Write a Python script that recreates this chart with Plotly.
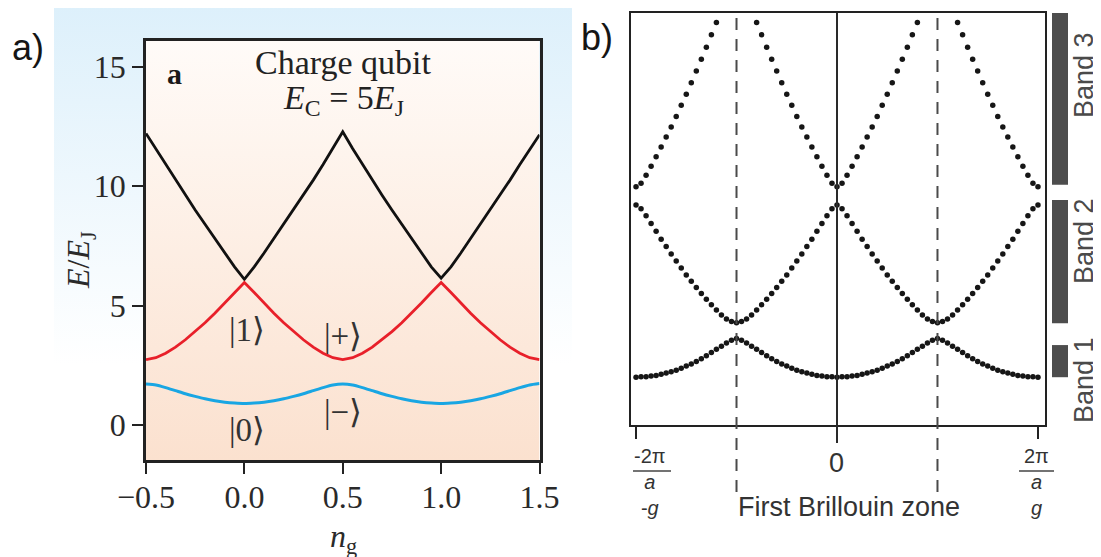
import plotly.graph_objects as go

W, H = 1101, 557
OFF = 8  # page offset of the plot div inside the browser window

# ---------------- Panel a data (charge qubit levels) ----------------
ng = [-0.5, -0.45, -0.4, -0.35, -0.3, -0.25, -0.2, -0.15, -0.1, -0.05,
      0.0, 0.05, 0.1, 0.15, 0.2, 0.25, 0.3, 0.35, 0.4, 0.45,
      0.5, 0.55, 0.6, 0.65, 0.7, 0.75, 0.8, 0.85, 0.9, 0.95,
      1.0, 1.05, 1.1, 1.15, 1.2, 1.25, 1.3, 1.35, 1.4, 1.45, 1.5]
level_ground = [1.72, 1.68, 1.57, 1.44, 1.31, 1.20, 1.10, 1.02, 0.96, 0.92,
                0.90, 0.92, 0.96, 1.02, 1.10, 1.20, 1.31, 1.44, 1.57, 1.68,
                1.72, 1.68, 1.57, 1.44, 1.31, 1.20, 1.10, 1.02, 0.96, 0.92,
                0.90, 0.92, 0.96, 1.02, 1.10, 1.20, 1.31, 1.44, 1.57, 1.68, 1.74]
level_first = [2.74, 2.82, 3.01, 3.26, 3.57, 3.91, 4.28, 4.68, 5.11, 5.55,
               5.97, 5.55, 5.11, 4.68, 4.28, 3.91, 3.57, 3.26, 3.01, 2.82,
               2.74, 2.82, 3.01, 3.26, 3.57, 3.91, 4.28, 4.68, 5.11, 5.55,
               5.97, 5.55, 5.11, 4.68, 4.28, 3.91, 3.57, 3.26, 3.01, 2.82, 2.74]
level_second = [12.2, 11.55, 10.90, 10.25, 9.62, 9.00, 8.40, 7.80, 7.20, 6.62,
                6.10, 6.62, 7.20, 7.80, 8.40, 9.00, 9.62, 10.25, 10.90, 11.57,
                12.27, 11.57, 10.90, 10.25, 9.62, 9.00, 8.40, 7.80, 7.20, 6.62,
                6.15, 6.62, 7.20, 7.80, 8.40, 9.00, 9.62, 10.25, 10.90, 11.52, 12.15]
a_xticks = [-0.5, 0.0, 0.5, 1.0, 1.5]
a_xticklabels = ["\u22120.5", "0.0", "0.5", "1.0", "1.5"]
a_yticks = [0, 5, 10, 15]
a_yticklabels = ["0", "5", "10", "15"]

# ---------------- Panel b data (band structure) ----------------
k = [-1.0, -0.975, -0.95, -0.925, -0.9, -0.875, -0.85, -0.825, -0.8, -0.775,
     -0.75, -0.725, -0.7, -0.675, -0.65, -0.625, -0.6, -0.575, -0.55, -0.525,
     -0.5, -0.475, -0.45, -0.425, -0.4, -0.375, -0.35, -0.325, -0.3, -0.275,
     -0.25, -0.225, -0.2, -0.175, -0.15, -0.125, -0.1, -0.075, -0.05, -0.025,
     0.0, 0.025, 0.05, 0.075, 0.1, 0.125, 0.15, 0.175, 0.2, 0.225,
     0.25, 0.275, 0.3, 0.325, 0.35, 0.375, 0.4, 0.425, 0.45, 0.475,
     0.5, 0.525, 0.55, 0.575, 0.6, 0.625, 0.65, 0.675, 0.7, 0.725,
     0.75, 0.775, 0.8, 0.825, 0.85, 0.875, 0.9, 0.925, 0.95, 0.975, 1.0]
band1 = [1.16, 1.17, 1.17, 1.19, 1.20, 1.23, 1.26, 1.29, 1.33, 1.38, 1.43, 1.48, 1.54, 1.61, 1.68, 1.76, 1.84, 1.91, 1.99, 2.06, 2.10,
         2.06, 1.99, 1.91, 1.84, 1.76, 1.68, 1.61, 1.54, 1.48, 1.43, 1.38, 1.33, 1.29, 1.26, 1.23, 1.20, 1.19, 1.17, 1.17, 1.16,
         1.17, 1.17, 1.19, 1.20, 1.23, 1.26, 1.29, 1.33, 1.38, 1.43, 1.48, 1.54, 1.61, 1.68, 1.76, 1.84, 1.91, 1.99, 2.06, 2.10,
         2.06, 1.99, 1.91, 1.84, 1.76, 1.68, 1.61, 1.54, 1.48, 1.43, 1.38, 1.33, 1.29, 1.26, 1.23, 1.20, 1.19, 1.17, 1.17, 1.16]
band2 = [5.34, 5.25, 5.08, 4.89, 4.70, 4.51, 4.33, 4.15, 3.98, 3.81, 3.64, 3.49, 3.34, 3.19, 3.05, 2.92, 2.79, 2.67, 2.57, 2.51, 2.48,
         2.51, 2.57, 2.67, 2.79, 2.92, 3.05, 3.19, 3.34, 3.49, 3.64, 3.81, 3.98, 4.15, 4.33, 4.51, 4.70, 4.89, 5.08, 5.25, 5.34,
         5.25, 5.08, 4.89, 4.70, 4.51, 4.33, 4.15, 3.98, 3.81, 3.64, 3.49, 3.34, 3.19, 3.05, 2.92, 2.79, 2.67, 2.57, 2.51, 2.48,
         2.51, 2.57, 2.67, 2.79, 2.92, 3.05, 3.19, 3.34, 3.49, 3.64, 3.81, 3.98, 4.15, 4.33, 4.51, 4.70, 4.89, 5.08, 5.25, 5.34]
band3 = [5.78, 5.87, 6.06, 6.28, 6.51, 6.75, 6.99, 7.23, 7.49, 7.76, 8.03, 8.31, 8.59, 8.88, 9.17, 9.47, 9.77, 10.08, 10.40, 10.72, 11.05,
         10.72, 10.40, 10.08, 9.77, 9.47, 9.17, 8.88, 8.59, 8.31, 8.03, 7.76, 7.49, 7.23, 6.99, 6.75, 6.51, 6.28, 6.06, 5.87, 5.78,
         5.87, 6.06, 6.28, 6.51, 6.75, 6.99, 7.23, 7.49, 7.76, 8.03, 8.31, 8.59, 8.88, 9.17, 9.47, 9.77, 10.08, 10.40, 10.72, 11.05,
         10.72, 10.40, 10.08, 9.77, 9.47, 9.17, 8.88, 8.59, 8.31, 8.03, 7.76, 7.49, 7.23, 6.99, 6.75, 6.51, 6.28, 6.06, 5.87, 5.78]
zone_edges = [-0.5, 0.5]
band_names = ["Band 1", "Band 2", "Band 3"]
band_lo = [1.16, 2.47, 5.83]
band_hi = [1.94, 5.46, 10.0]


def px(x):
    return (x - OFF) / W


def py(y):
    return 1 - (y - OFF) / H


SERIF = "Liberation Serif, Times New Roman, serif"
SANS = "Liberation Sans, Arial, sans-serif"

fig = go.Figure()

# background light-blue wash behind panel a (pixel-based helper axes)
fig.add_trace(go.Scatter(
    x=[54, 572, 572, 54, 54], y=[H - 7, H - 7, H - 365, H - 365, H - 7],
    mode="lines", fill="toself", line=dict(width=0),
    fillgradient=dict(type="vertical", colorscale=[[0, "#ffffff"], [1, "#ddf0fb"]],
                      start=H - 365, stop=H - 7),
    hoverinfo="skip", xaxis="x", yaxis="y"))

# panel a plot-area gradient
fig.add_trace(go.Scatter(
    x=[-0.5, 1.5, 1.5, -0.5, -0.5], y=[-1.46, -1.46, 16.07, 16.07, -1.46],
    mode="lines", fill="toself", line=dict(width=0),
    fillgradient=dict(type="vertical", colorscale=[[0, "#fbe1cf"], [1, "#fffbf8"]],
                      start=-1.46, stop=16.07),
    hoverinfo="skip", xaxis="x2", yaxis="y2"))

fig.add_trace(go.Scatter(x=ng, y=level_second, mode="lines",
                         line=dict(color="#111111", width=2.8), xaxis="x2", yaxis="y2"))
fig.add_trace(go.Scatter(x=ng, y=level_first, mode="lines",
                         line=dict(color="#e8202a", width=2.8), xaxis="x2", yaxis="y2"))
fig.add_trace(go.Scatter(x=ng, y=level_ground, mode="lines",
                         line=dict(color="#19a6e3", width=3, shape="spline", smoothing=0.6),
                         xaxis="x2", yaxis="y2"))

# panel b dotted bands
for b in (band1, band2, band3):
    fig.add_trace(go.Scatter(x=k, y=b, mode="markers",
                             marker=dict(color="#161616", size=5.5),
                             xaxis="x3", yaxis="y3"))

shapes = []
shapes.append(dict(type="line", xref="x3", yref="paper", x0=0, x1=0,
                   y0=py(443), y1=py(13), line=dict(color="#2a2a2a", width=2)))
for ze in zone_edges:
    shapes.append(dict(type="line", xref="x3", yref="paper", x0=ze, x1=ze,
                       y0=py(492), y1=py(13),
                       line=dict(color="#4a4a4a", width=2, dash="12px,9px")))
for lo, hi in zip(band_lo, band_hi):
    shapes.append(dict(type="rect", xref="paper", yref="y3", x0=px(1052), x1=px(1068),
                       y0=lo, y1=hi, fillcolor="#4d4d4d", line=dict(width=0)))
for xa, xb in ((633, 671), (1019, 1054)):
    shapes.append(dict(type="line", xref="paper", yref="paper", x0=px(xa), x1=px(xb),
                       y0=py(471), y1=py(471), line=dict(color="#444444", width=1.6)))

ann = []


def add_text(text, x, y, size, family, color="#222222", angle=0):
    ann.append(dict(text=text, x=px(x), y=py(y), xref="paper", yref="paper",
                    showarrow=False, xanchor="center", yanchor="middle",
                    textangle=angle, font=dict(size=size, family=family, color=color)))


add_text("a)", 28, 47, 36, SANS, "#151515")
add_text("b)", 597, 38, 36, SANS, "#151515")
add_text("<b>a</b>", 174, 73, 30, SERIF, "#1a1a1a")
add_text("Charge qubit", 343, 62, 34, SERIF, "#222222")
add_text("<i>E</i><sub>C</sub> = 5<i>E</i><sub>J</sub>", 343, 100, 34, SERIF, "#222222")
add_text("|1\u27e9", 247, 330, 33, SERIF, "#333333")
add_text("|+\u27e9", 343, 336, 33, SERIF, "#333333")
add_text("|\u2212\u27e9", 343, 412, 33, SERIF, "#333333")
add_text("|0\u27e9", 247, 430, 33, SERIF, "#333333")
add_text("<i>E</i>/<i>E</i><sub>J</sub>", 80, 260, 32, SERIF, "#2a2a2a", angle=-90)
add_text("<i>n</i><sub>g</sub>", 343, 538, 32, SERIF, "#2a2a2a")

# panel b labels
add_text("-2\u03c0<br><i>a</i><br>-<i>g</i>", 650, 482, 20, SANS, "#333333")
add_text("2\u03c0<br><i>a</i><br><i>g</i>", 1036, 482, 20, SANS, "#333333")
add_text("0", 836, 463, 27, SANS, "#333333")
add_text("First Brillouin zone", 849, 507, 27, SANS, "#333333")
for name, yc in zip(band_names, [380, 241, 75]):
    add_text(name, 1084, yc, 27, SANS, "#4a4a4a", angle=-90)

fig.update_layout(
    width=W, height=H, margin=dict(l=0, r=0, t=0, b=0, autoexpand=False),
    paper_bgcolor="white", plot_bgcolor="rgba(0,0,0,0)", showlegend=False,
    shapes=shapes, annotations=ann,
    xaxis=dict(domain=[0, 1], range=[OFF, W + OFF], visible=False, automargin=False),
    yaxis=dict(domain=[0, 1], range=[-OFF, H - OFF], visible=False, automargin=False),
    xaxis2=dict(domain=[px(146), px(539.5)], range=[-0.5, 1.5], anchor="y2",
                tickvals=a_xticks, ticktext=a_xticklabels, ticks="outside",
                ticklen=11, tickwidth=2, tickcolor="#222222", ticklabelstandoff=-4,
                showline=True, mirror=True, linecolor="#222222", linewidth=2.5,
                showgrid=False, zeroline=False, automargin=False,
                tickfont=dict(size=32, family=SERIF, color="#2a2a2a")),
    yaxis2=dict(domain=[py(460), py(41)], range=[-1.46, 16.07], anchor="x2",
                tickvals=a_yticks, ticktext=a_yticklabels, ticks="outside",
                ticklen=11, tickwidth=2, tickcolor="#222222",
                showline=True, mirror=True, linecolor="#222222", linewidth=2.5,
                showgrid=False, zeroline=False, automargin=False,
                tickfont=dict(size=32, family=SERIF, color="#2a2a2a")),
    xaxis3=dict(domain=[px(631), px(1045)], range=[-1.025, 1.035], anchor="y3",
                tickvals=[-1, 1], ticks="outside", ticklen=12, tickwidth=2,
                tickcolor="#222222", showticklabels=False,
                showline=True, mirror=True, linecolor="#222222", linewidth=2,
                showgrid=False, zeroline=False, automargin=False),
    yaxis3=dict(domain=[py(425), py(13)], range=[0, 10], anchor="x3",
                showticklabels=False, ticks="",
                showline=True, mirror=True, linecolor="#222222", linewidth=2,
                showgrid=False, zeroline=False, automargin=False),
)

fig.write_html("out.html")
